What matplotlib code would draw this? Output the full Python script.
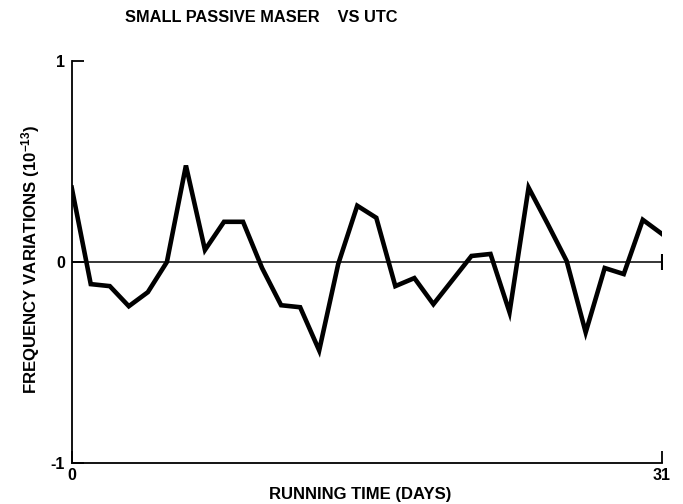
import matplotlib
matplotlib.use("Agg")
import matplotlib.pyplot as plt

days = list(range(0, 32))
freq = [0.37, -0.11, -0.12, -0.22, -0.15, 0.0, 0.48, 0.06, 0.20, 0.20,
        -0.03, -0.215, -0.225, -0.44, -0.01, 0.28, 0.22, -0.12, -0.08, -0.21,
        -0.09, 0.03, 0.04, -0.25, 0.37, 0.19, 0.005, -0.35, -0.03, -0.06,
        0.21, 0.14]
ytick_vals = [-1, 0, 1]
ytick_labels = ["-1", "0", "1"]
xtick_vals = [0, 31]
xtick_labels = ["0", "31"]

FONT = ["Liberation Sans", "DejaVu Sans"]
plt.rcParams['font.family'] = FONT
plt.rcParams['font.weight'] = 'bold'
plt.rcParams['mathtext.fontset'] = 'custom'
plt.rcParams['mathtext.rm'] = 'Liberation Sans:bold'
plt.rcParams['mathtext.bf'] = 'Liberation Sans:bold'
plt.rcParams['mathtext.default'] = 'bf'

fig = plt.figure(figsize=(6.83, 5.04), dpi=100)
ax = fig.add_axes([0.105, 0.0813, 0.864, 0.7977])

ax.plot(days, freq, color='black', lw=3.3, solid_joinstyle='miter')
ax.plot([days[0], days[-1]], [0, 0], color='black', lw=1.1,
        marker='|', markevery=[1], markersize=12, markeredgewidth=1.5)

ax.set_xlim(0, 31)
ax.set_ylim(-1, 1)
ax.spines['top'].set_visible(False)
ax.spines['right'].set_visible(False)
for s in ('left', 'bottom'):
    ax.spines[s].set_linewidth(1.3)

ax.set_xticks(xtick_vals)
ax.set_xticklabels(xtick_labels)
ax.set_yticks(ytick_vals)
ax.set_yticklabels(ytick_labels)
ax.tick_params(axis='both', direction='in', length=8.5, width=1.3,
               labelsize=11.5)
ax.tick_params(axis='x', pad=3.5)
ax.tick_params(axis='y', pad=5)

ax.set_xlabel("RUNNING TIME (DAYS)", fontsize=12, fontweight='bold')
ax.xaxis.set_label_coords(0.488, -0.06)
ax.set_ylabel(r"FREQUENCY VARIATIONS (10$^{-13}$)", fontsize=12.1,
              fontweight='bold')
ax.yaxis.set_label_coords(-0.05, 0.506)
fig.text(0.183, 0.965, "SMALL PASSIVE MASER    VS UTC", fontsize=11.75,
         fontweight='bold', ha='left', va='center')

fig.savefig("out.png", dpi=100)
